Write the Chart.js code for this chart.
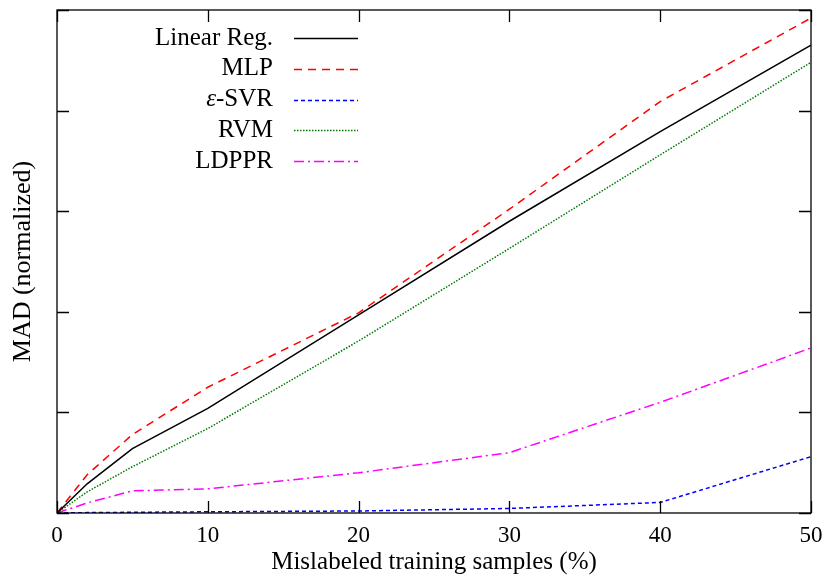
<!DOCTYPE html>
<html>
<head>
<meta charset="utf-8">
<script src="https://cdn.jsdelivr.net/npm/chart.js@4/dist/chart.umd.min.js"></script>
<style>
  html, body { margin: 0; padding: 0; background: #fff; }
  #wrap { width: 824px; height: 577px; }
</style>
</head>
<body>
<div id="wrap"><canvas id="chart" width="824" height="577"></canvas></div>
<script>
// values (MAD, normalized units)
const mislabeled = [0, 2, 5, 10, 20, 30, 40, 50];
const linearReg = [0, 0.29, 0.64, 1.04, 1.97, 2.90, 3.79, 4.65];
const mlp       = [0, 0.38, 0.78, 1.25, 1.99, 3.02, 4.09, 4.92];
const epsSvr    = [0, 0.004, 0.007, 0.012, 0.02, 0.045, 0.105, 0.56];
const rvm       = [0, 0.21, 0.46, 0.84, 1.71, 2.63, 3.56, 4.48];
const ldppr     = [0, 0.10, 0.22, 0.24, 0.40, 0.60, 1.10, 1.64];

const seriesNames = ['Linear Reg.', 'MLP', 'ε-SVR', 'RVM', 'LDPPR'];
const xTickValues = [0, 10, 20, 30, 40, 50];
const yTickValues = [0, 1, 2, 3, 4, 5];

const serif = "'Liberation Serif', 'DejaVu Serif', serif";

function pts(vals) {
  return mislabeled.map((x, i) => ({ x: x, y: vals[i] }));
}

// gnuplot style box with inward ticks on all four sides
const framePlugin = {
  id: 'frame',
  afterDatasetsDraw(chart) {
    const ctx = chart.ctx;
    const a = chart.chartArea;
    const x = chart.scales.x, y = chart.scales.y;
    const len = 12;
    ctx.save();
    ctx.strokeStyle = '#000';
    ctx.lineWidth = 1.3;
    ctx.setLineDash([]);
    ctx.beginPath();
    xTickValues.forEach(v => {
      const px = Math.round(x.getPixelForValue(v)) + 0.5;
      ctx.moveTo(px, a.bottom); ctx.lineTo(px, a.bottom - len);
      ctx.moveTo(px, a.top); ctx.lineTo(px, a.top + len);
    });
    yTickValues.forEach(v => {
      const py = Math.round(y.getPixelForValue(v)) + 0.5;
      ctx.moveTo(a.left, py); ctx.lineTo(a.left + len, py);
      ctx.moveTo(a.right, py); ctx.lineTo(a.right - len, py);
    });
    ctx.stroke();
    ctx.strokeRect(a.left, a.top, a.right - a.left, a.bottom - a.top);
    ctx.restore();
  }
};

// key in the upper left: right aligned text, line sample to its right
const keyPlugin = {
  id: 'key',
  afterDatasetsDraw(chart) {
    const ctx = chart.ctx;
    const textRight = 273, lineFrom = 294, lineTo = 358;
    const top = 38, step = 30.8;
    ctx.save();
    ctx.textBaseline = 'middle';
    ctx.textAlign = 'right';
    chart.data.datasets.forEach((ds, i) => {
      const yy = top + i * step;
      ctx.fillStyle = '#000';
      let label = ds.label;
      if (label.startsWith('ε')) {
        const rest = label.slice(1);
        ctx.font = '25px ' + serif;
        ctx.fillText(rest, textRight, yy);
        const w = ctx.measureText(rest).width;
        ctx.font = 'italic 25px ' + serif;
        ctx.fillText('ε', textRight - w, yy);
      } else {
        ctx.font = '25px ' + serif;
        ctx.fillText(label, textRight, yy);
      }
      ctx.strokeStyle = ds.borderColor;
      ctx.lineWidth = ds.borderWidth;
      ctx.setLineDash(ds.borderDash || []);
      ctx.beginPath();
      ctx.moveTo(lineFrom, Math.round(yy) + 0.5);
      ctx.lineTo(lineTo, Math.round(yy) + 0.5);
      ctx.stroke();
    });
    ctx.restore();
  }
};

const data = {
  datasets: [
    { label: seriesNames[0], data: pts(linearReg), borderColor: '#000000', borderWidth: 1.5, borderDash: [] },
    { label: seriesNames[1], data: pts(mlp), borderColor: '#ff0000', borderWidth: 1.5, borderDash: [8, 6] },
    { label: seriesNames[2], data: pts(epsSvr), borderColor: '#0000ff', borderWidth: 1.5, borderDash: [4, 3] },
    { label: seriesNames[3], data: pts(rvm), borderColor: '#007a00', borderWidth: 1.5, borderDash: [1.5, 1.5] },
    { label: seriesNames[4], data: pts(ldppr), borderColor: '#ff00ff', borderWidth: 1.5, borderDash: [10, 4, 2, 4] }
  ]
};
data.datasets.forEach(ds => {
  ds.pointRadius = 0;
  ds.tension = 0;
  ds.fill = false;
});

const config = {
  type: 'line',
  data: data,
  options: {
    responsive: false,
    animation: false,
    devicePixelRatio: 1,
    layout: { padding: { top: 10, right: 13, left: 0, bottom: 0 } },
    plugins: {
      legend: { display: false },
      tooltip: { enabled: false }
    },
    scales: {
      x: {
        type: 'linear',
        min: 0,
        max: 50,
        afterFit: s => {
          s.height = 64;
          s.paddingLeft = 0;   // don't shrink plot for the "50" label overhang
          s.paddingRight = 0;
        },
        afterBuildTicks: s => { s.ticks = xTickValues.map(v => ({ value: v })); },
        grid: { display: false, drawTicks: false },
        border: { display: false },
        ticks: { color: '#000', font: { family: serif, size: 23 }, padding: 9, maxRotation: 0 },
        title: {
          display: true,
          text: 'Mislabeled training samples (%)',
          color: '#000',
          font: { family: serif, size: 25 },
          padding: { top: 0, bottom: 0 }
        }
      },
      y: {
        type: 'linear',
        min: 0,
        max: 5,
        afterFit: s => { s.width = 57; },
        afterBuildTicks: s => { s.ticks = yTickValues.map(v => ({ value: v })); },
        grid: { display: false, drawTicks: false },
        border: { display: false },
        ticks: { display: false },
        title: {
          display: true,
          text: 'MAD (normalized)',
          color: '#000',
          font: { family: serif, size: 26 },
          padding: { top: 8, bottom: 0 }
        }
      }
    }
  },
  plugins: [framePlugin, keyPlugin]
};

const myChart = new Chart(document.getElementById('chart'), config);
</script>
</body>
</html>
